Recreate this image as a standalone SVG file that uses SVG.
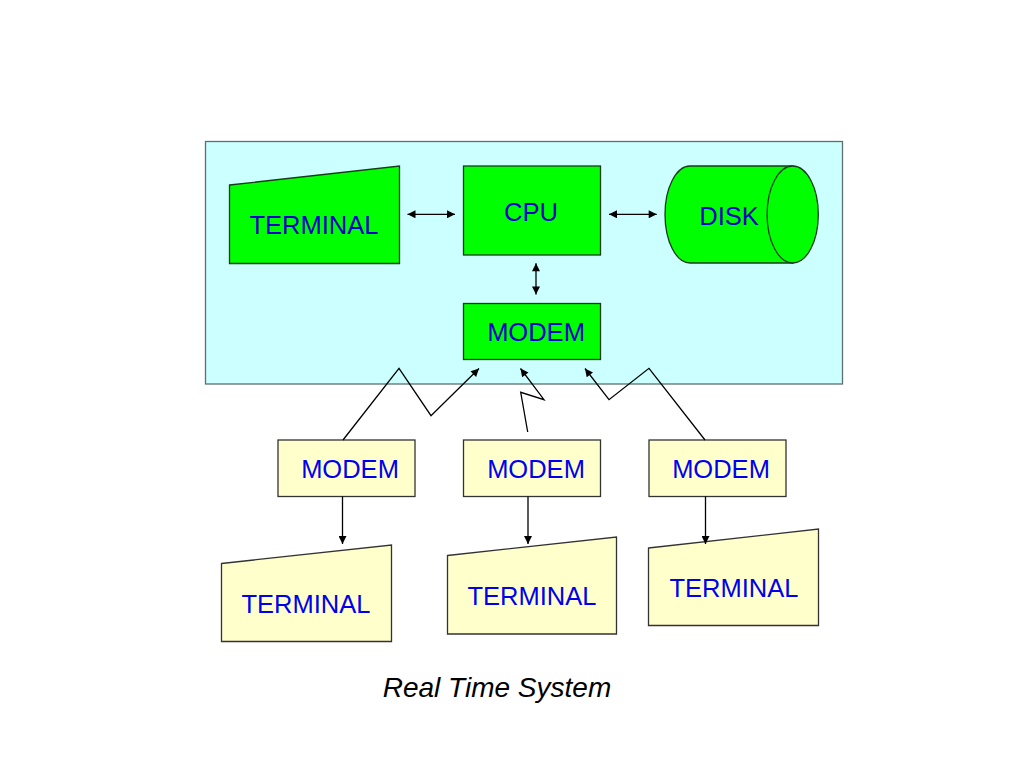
<svg xmlns="http://www.w3.org/2000/svg" width="1024" height="768" viewBox="0 0 1024 768">
<style>
.green{fill:#00FF00;stroke:#1a3a1a;stroke-width:1.3}
.yellow{fill:#FFFFCC;stroke:#333333;stroke-width:1.3}
.lbl{font-family:"Liberation Sans",Arial,sans-serif;font-size:25.5px;text-anchor:middle}
.lg{fill:#0000CC}
.ly{fill:#0000EE}
.conn{fill:none;stroke:#000;stroke-width:1.3}
</style>
<defs>
<marker id="ah" viewBox="0 0 10 10" refX="10" refY="5" markerWidth="10" markerHeight="8" markerUnits="userSpaceOnUse" orient="auto-start-reverse">
<path d="M0,0 L10,5 L0,10 Z" fill="#000"/>
</marker>
</defs>
<rect width="1024" height="768" fill="#FFFFFF"/>
<g id="system">
<rect x="205.5" y="141.5" width="637" height="242.5" fill="#CCFFFF" stroke="#5f6f70" stroke-width="1.3"/>
</g>
<g id="terminal-main">
<polygon class="green" points="229.5,185 399.5,166 399.5,263.5 229.5,263.5"/>
<text class="lbl lg" x="314" y="233.5">TERMINAL</text>
</g>
<g id="cpu">
<rect class="green" x="463.5" y="166" width="137" height="89"/>
<text class="lbl lg" x="531" y="220.5">CPU</text>
</g>
<g id="disk">
<path class="green" d="M793,166 L690,166 A25,48.5 0 0 0 690,263 L793,263 Z"/>
<ellipse class="green" cx="792.7" cy="214.5" rx="25.6" ry="48.5"/>
<text class="lbl lg" x="729" y="224.5">DISK</text>
</g>
<g id="modem-main">
<rect class="green" x="463.5" y="303.5" width="137" height="56"/>
<text class="lbl lg" x="536" y="340.5">MODEM</text>
</g>
<g id="modem-1">
<rect class="yellow" x="278" y="440" width="137" height="56.5"/>
<text class="lbl ly" x="350" y="478">MODEM</text>
</g>
<g id="modem-2">
<rect class="yellow" x="463.5" y="440" width="137" height="56.5"/>
<text class="lbl ly" x="536" y="478">MODEM</text>
</g>
<g id="modem-3">
<rect class="yellow" x="649" y="440" width="137" height="56.5"/>
<text class="lbl ly" x="721" y="478">MODEM</text>
</g>
<g id="terminal-1">
<polygon class="yellow" points="221.5,563.5 391.5,545 391.5,641.5 221.5,641.5"/>
<text class="lbl ly" x="306" y="613">TERMINAL</text>
</g>
<g id="terminal-2">
<polygon class="yellow" points="447.5,555.5 616.5,537 616.5,634 447.5,634"/>
<text class="lbl ly" x="532" y="604.5">TERMINAL</text>
</g>
<g id="terminal-3">
<polygon class="yellow" points="648.5,548 818.5,529 818.5,625.5 648.5,625.5"/>
<text class="lbl ly" x="734" y="597">TERMINAL</text>
</g>
<g id="connectors">
<line class="conn" x1="407.5" y1="214.3" x2="455" y2="214.3" marker-start="url(#ah)" marker-end="url(#ah)"/>
<line class="conn" x1="609" y1="214.3" x2="656.7" y2="214.3" marker-start="url(#ah)" marker-end="url(#ah)"/>
<line class="conn" x1="536" y1="263.3" x2="536" y2="294.5" marker-start="url(#ah)" marker-end="url(#ah)"/>
<polyline class="conn" points="343,440 399,368.3 431,415.7 479,368.5" marker-end="url(#ah)"/>
<polyline class="conn" points="527.7,432 520.7,392.3 544,399.7 520.5,368.5" marker-end="url(#ah)"/>
<polyline class="conn" points="705,440 649,368.3 609,399.7 585,368.5" marker-end="url(#ah)"/>
<line class="conn" x1="342.5" y1="496.5" x2="342.5" y2="544" marker-end="url(#ah)"/>
<line class="conn" x1="528" y1="496.5" x2="528" y2="544" marker-end="url(#ah)"/>
<line class="conn" x1="705.5" y1="496.5" x2="705.5" y2="544" marker-end="url(#ah)"/>
</g>
<text x="497" y="697" font-family="'Liberation Sans',Arial,sans-serif" font-size="28" font-style="italic" text-anchor="middle" fill="#000">Real Time System</text>
</svg>
